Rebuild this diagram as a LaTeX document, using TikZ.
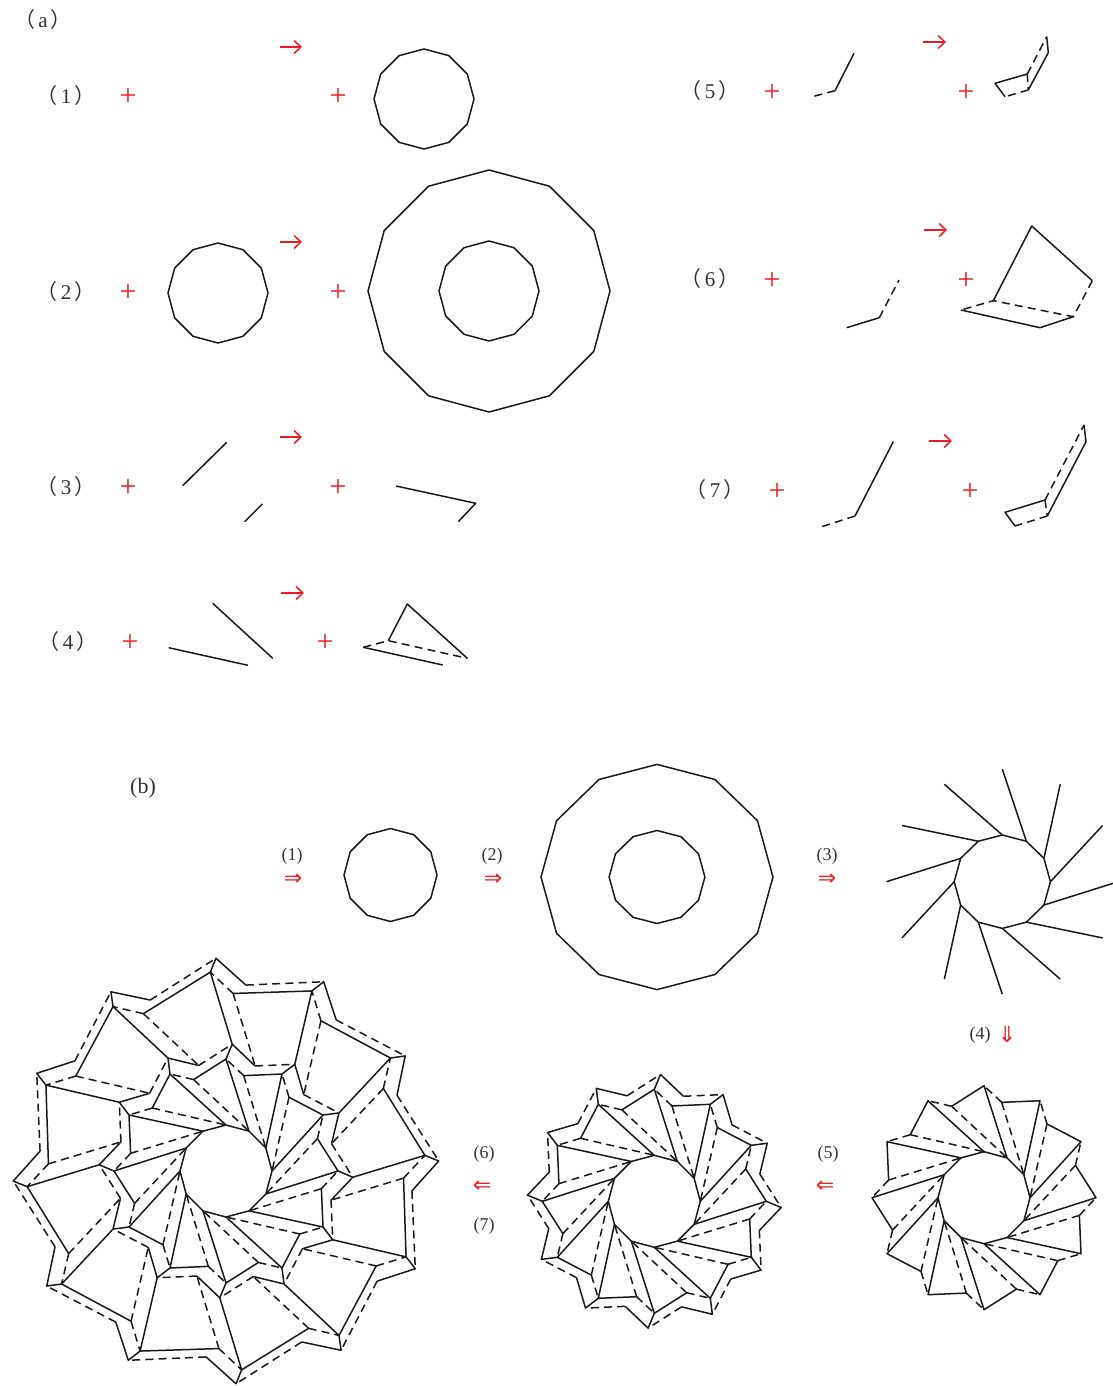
\documentclass[tikz,border=0pt]{standalone}
\usepackage{fontspec}
\setmainfont{Liberation Serif}
\newfontfamily\cjk{Noto Sans CJK SC}
\newfontfamily\arrowfont{DejaVu Sans}
\usetikzlibrary{arrows.meta}
\definecolor{markred}{RGB}{237,28,36}
\newcommand{\wide}[1]{{\cjk （}\hspace{1.6pt}#1\hspace{1.6pt}{\cjk ）}}
% closed 12-gon, one corner on the horizontal
\newcommand{\dodecagon}[1]{\draw[foldline] (0:#1) \foreach \a in {30,60,...,330}{ -- (\a:#1)} -- cycle;}
% first layer of flaps round the hole
\newcommand{\firstlayer}{
  \foreach \p in {0,30,...,330}{
    \draw[foldline] (\p:46) -- (\p-30:112) -- (\p-49.5:97);
    \draw[creaseline] (\p-49.5:97) -- (\p:46);
    \draw[creaseline] (\p-49.5:97) -- (\p-60:112);
  }}
% small tucks on top of the first layer
\newcommand{\secondlayer}{
  \foreach \p in {0,30,...,330}{
    \draw[foldline] (\p-30:112) -- (\p-27.2:127) -- (\p-14.5:109);
    \draw[creaseline] (\p-14.5:109) -- (\p+2.8:127);
  }}
% outer flaps and tucks
\newcommand{\thirdlayer}{
  \foreach \p in {0,30,...,330}{
    \draw[foldline] (\p-27.2:127) -- (\p-34.5:199.5) -- (\p-57.7:177.7);
    \draw[creaseline] (\p-57.7:177.7) -- (\p-44.5:109);
    \draw[creaseline] (\p-57.7:177.7) -- (\p-64.5:199.5);
    \draw[foldline] (\p-34.5:199.5) -- (\p-32.7:213) -- (\p-23.9:187);
    \draw[creaseline] (\p-23.9:187) -- (\p-2.7:213);
  }}
\begin{document}
\begin{tikzpicture}[
  x=0.5pt, y=-0.5pt,
  foldline/.style={line width=0.75pt, black!90, line join=round},
  creaseline/.style={line width=0.75pt, black!90, dash pattern=on 4pt off 2.6pt},
  redarrow/.style={-{Straight Barb[length=3.4pt,width=6.5pt]}, line width=0.75pt, markred},
  plusmark/.style={font=\fontsize{15}{15}\selectfont, text=markred, inner sep=0pt, yshift=-0.8pt},
  steplabel/.style={font=\fontsize{10.5}{12}\selectfont, text=black!80, inner sep=0pt},
  smalllabel/.style={font=\fontsize{9}{11}\selectfont, text=black!80, inner sep=0pt},
  doublearrow/.style={font=\arrowfont\fontsize{11}{13}\selectfont, text=markred, inner sep=0pt}
]
  \useasboundingbox (0,0) rectangle (1113,1386);

  % Part a, labels
  \node[steplabel] (parta) at (43,20) {\wide{a}};
  \node[steplabel] (la1) at (66,96) {\wide{1}};
  \node[steplabel] (la2) at (66,292) {\wide{2}};
  \node[steplabel] (la3) at (66,487) {\wide{3}};
  \node[steplabel] (la4) at (68,642) {\wide{4}};
  \node[steplabel] (la5) at (710,91) {\wide{5}};
  \node[steplabel] (la6) at (710,279) {\wide{6}};
  \node[steplabel] (la7) at (715,490) {\wide{7}};

  % Part a, plus signs
  \node[plusmark] (p1a) at (128,95) {+};
  \node[plusmark] (p1b) at (338,95) {+};
  \node[plusmark] (p2a) at (128,291) {+};
  \node[plusmark] (p2b) at (338,291) {+};
  \node[plusmark] (p3a) at (128,486) {+};
  \node[plusmark] (p3b) at (338,486) {+};
  \node[plusmark] (p4a) at (130,641) {+};
  \node[plusmark] (p4b) at (325,641) {+};
  \node[plusmark] (p5a) at (772,91) {+};
  \node[plusmark] (p5b) at (966,91) {+};
  \node[plusmark] (p6a) at (772,279) {+};
  \node[plusmark] (p6b) at (966,279) {+};
  \node[plusmark] (p7a) at (777,490) {+};
  \node[plusmark] (p7b) at (970,490) {+};

  % Part a, arrows
  \draw[redarrow] (280,47) -- (302,47);
  \draw[redarrow] (280,242) -- (302,242);
  \draw[redarrow] (280,437) -- (302,437);
  \draw[redarrow] (281,593) -- (304,593);
  \draw[redarrow] (923,42) -- (946,42);
  \draw[redarrow] (924,230) -- (947,230);
  \draw[redarrow] (929,441) -- (952,441);

  % Step 1
  \begin{scope}[shift={(424,99)}]
    \dodecagon{50}
  \end{scope}

  % Step 2
  \begin{scope}[shift={(218,293)}]
    \dodecagon{50}
  \end{scope}
  \begin{scope}[shift={(489,291)}]
    \dodecagon{121}
    \dodecagon{50}
  \end{scope}

  % Step 3
  \draw[foldline] (182.7,485.7) -- (226.7,442.3);
  \draw[foldline] (244.7,521.7) -- (262.3,504);
  \draw[foldline] (396,486) -- (475.7,503.3) -- (458.3,521.7);

  % Step 4
  \draw[foldline] (212.7,603.3) -- (272.7,658.3);
  \draw[foldline] (168.7,647.7) -- (248,665.3);
  \draw[foldline] (388.3,640.7) -- (407.3,604) -- (467.3,658.3);
  \draw[creaseline] (363.3,647.3) -- (388.3,640.7) -- (467.3,658.3);
  \draw[foldline] (363.3,647.3) -- (442.7,665);

  % Step 5
  \draw[foldline] (854,53.3) -- (835,90.7);
  \draw[creaseline] (835,90.7) -- (810,97.3);
  \draw[foldline] (1046.7,36.7) -- (1048.3,52.7) -- (1028.3,90);
  \draw[creaseline] (1028.3,90) -- (1005,96.7);
  \draw[foldline] (1005,96.7) -- (995,83.3) -- (1027.3,74);
  \draw[creaseline] (1027.3,74) -- (1046.7,36.7);
  \draw[creaseline] (1027.3,74) -- (1028.3,90);

  % Step 6
  \draw[foldline] (846.7,327.7) -- (879.3,317.7);
  \draw[creaseline] (879.3,317.7) -- (899,280);
  \draw[foldline] (993.3,300.7) -- (1031.7,226) -- (1092.3,280.7);
  \draw[creaseline] (1092.3,280.7) -- (1073.3,316.7) -- (993.3,300.7) -- (961,310);
  \draw[foldline] (961,310) -- (1040,327.7) -- (1073.3,316.7);

  % Step 7
  \draw[foldline] (893.3,441.7) -- (855,516);
  \draw[creaseline] (855,516) -- (821.7,526.7);
  \draw[foldline] (1084,425) -- (1086,441.7) -- (1047.3,516);
  \draw[creaseline] (1047.3,516) -- (1015,526);
  \draw[foldline] (1015,526) -- (1005,512.3) -- (1045,500);
  \draw[creaseline] (1045,500) -- (1084,425);
  \draw[creaseline] (1045,500) -- (1047.3,516);

  % Part b, labels
  \node[font=\fontsize{11}{13}\selectfont, text=black!80, inner sep=0pt] (partb) at (143,788) {(b)};
  \node[smalllabel] (lb1) at (292,856) {(1)};
  \node[smalllabel] (lb2) at (492,856) {(2)};
  \node[smalllabel] (lb3) at (827,856) {(3)};
  \node[smalllabel] (lb4) at (980,1035) {(4)};
  \node[smalllabel] (lb5) at (828,1154) {(5)};
  \node[smalllabel] (lb6) at (484,1154) {(6)};
  \node[smalllabel] (lb7) at (484,1226) {(7)};
  \node[doublearrow] (db1) at (293,880) {⇒};
  \node[doublearrow] (db2) at (493,880) {⇒};
  \node[doublearrow] (db3) at (827,880) {⇒};
  \node[doublearrow] (db4) at (1007,1035) {⇓};
  \node[doublearrow] (db5) at (825,1187) {⇐};
  \node[doublearrow] (db6) at (482,1187) {⇐};

  % Hole
  \begin{scope}[shift={(390.5,875)}]
    \dodecagon{46.5}
  \end{scope}

  % Ring
  \begin{scope}[shift={(657,877)}, xscale=1.03]
    \dodecagon{46.5}
    \dodecagon{112.6}
  \end{scope}

  % Hole with twelve creases
  \begin{scope}[shift={(1002.3,881.7)}, xscale=1.03]
    \dodecagon{46.7}
    \foreach \p in {0,30,...,330}{
      \draw[foldline] (\p:46.7) -- (\p-30:112.5);
    }
  \end{scope}

  % First layer
  \begin{scope}[shift={(984,1197.7)}]
    \dodecagon{46}
    \firstlayer
  \end{scope}

  % Second layer
  \begin{scope}[shift={(654.3,1201.3)}]
    \dodecagon{46}
    \firstlayer
    \secondlayer
  \end{scope}

  % Third layer
  \begin{scope}[shift={(226,1171)}]
    \dodecagon{46}
    \firstlayer
    \secondlayer
    \thirdlayer
  \end{scope}
\end{tikzpicture}
\end{document}
